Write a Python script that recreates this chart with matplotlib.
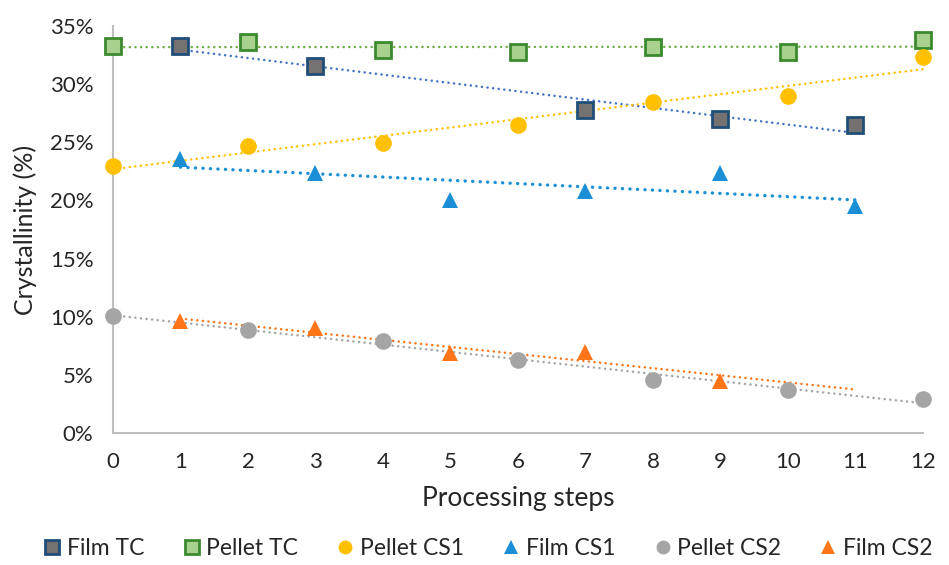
import numpy as np
import matplotlib
matplotlib.use("Agg")
import matplotlib.pyplot as plt
from matplotlib.ticker import FuncFormatter

plt.rcParams['font.family'] = ['Lato', 'DejaVu Sans']

# Data (crystallinity %)
film_tc_x = [1, 3, 7, 9, 11]
film_tc_y = [33.3, 31.6, 27.8, 27.0, 26.5]
pellet_tc_x = [0, 2, 4, 6, 8, 10, 12]
pellet_tc_y = [33.3, 33.6, 32.9, 32.8, 33.2, 32.8, 33.8]
pellet_cs1_x = [0, 2, 4, 6, 8, 10, 12]
pellet_cs1_y = [23.0, 24.7, 24.9, 26.5, 28.5, 29.0, 32.3]
film_cs1_x = [1, 3, 5, 7, 9, 11]
film_cs1_y = [23.6, 22.4, 20.0, 20.8, 22.4, 19.5]
pellet_cs2_x = [0, 2, 4, 6, 8, 10, 12]
pellet_cs2_y = [10.1, 8.9, 7.9, 6.3, 4.6, 3.7, 2.9]
film_cs2_x = [1, 3, 5, 7, 9]
film_cs2_y = [9.6, 9.0, 6.9, 7.0, 4.5]
film_cs2_trend_end = 11

x_ticks = list(range(0, 13))
y_ticks = [0, 5, 10, 15, 20, 25, 30, 35]

fig = plt.figure(figsize=(9.49, 5.65), dpi=100)
ax = fig.add_axes([0.119, 0.2336, 0.8536, 0.7204])

series = [
    dict(x=film_tc_x, y=film_tc_y, label='Film TC', marker='s', fc='#767171', ec='#1F4E79', ms=11, mew=2,
         lc='#4472C4', lw=1.8, end=None),
    dict(x=pellet_tc_x, y=pellet_tc_y, label='Pellet TC', marker='s', fc='#A9D18E', ec='#3B8A2E', ms=11, mew=2,
         lc='#70AD47', lw=1.8, end=None),
    dict(x=pellet_cs1_x, y=pellet_cs1_y, label='Pellet CS1', marker='o', fc='#FFC000', ec='#FFC000', ms=12, mew=0,
         lc='#FFC000', lw=1.8, end=None),
    dict(x=film_cs1_x, y=film_cs1_y, label='Film CS1', marker='^', fc='#1A8FD6', ec='#1A8FD6', ms=12, mew=0,
         lc='#1A8FD6', lw=2.4, end=None),
    dict(x=pellet_cs2_x, y=pellet_cs2_y, label='Pellet CS2', marker='o', fc='#A5A5A5', ec='#A5A5A5', ms=12, mew=0,
         lc='#A5A5A5', lw=1.8, end=None),
    dict(x=film_cs2_x, y=film_cs2_y, label='Film CS2', marker='^', fc='#FF7518', ec='#FF7518', ms=12, mew=0,
         lc='#FF7518', lw=1.8, end=film_cs2_trend_end),
]

for s in series:
    x = np.array(s['x'], dtype=float)
    y = np.array(s['y'], dtype=float)
    k, b = np.polyfit(x, y, 1)
    xe = s['end'] if s['end'] is not None else x.max()
    xt = np.array([x.min(), xe])
    ax.plot(xt, k * xt + b, color=s['lc'], lw=s['lw'], linestyle=(0, (0.05, 2.2)),
            dash_capstyle='round', zorder=2, clip_on=False)
    ax.plot(x, y, linestyle='none', marker=s['marker'], markersize=s['ms'],
            markerfacecolor=s['fc'], markeredgecolor=s['ec'], markeredgewidth=s['mew'],
            label=s['label'], zorder=3, clip_on=False)

ax.set_xlim(0, 12)
ax.set_ylim(0, 35)
ax.set_xticks(x_ticks)
ax.set_yticks(y_ticks)
ax.yaxis.set_major_formatter(FuncFormatter(lambda v, p: f"{int(v)}%"))
ax.tick_params(axis='both', length=0, labelsize=16, colors='#262626')
ax.tick_params(axis='x', pad=14)
ax.tick_params(axis='y', pad=14)
for sp in ['top', 'right']:
    ax.spines[sp].set_visible(False)
for sp in ['left', 'bottom']:
    ax.spines[sp].set_color('#BFBFBF')
    ax.spines[sp].set_linewidth(1.5)

ax.set_xlabel('Processing steps', fontsize=19, color='#262626', labelpad=10)
ax.set_ylabel('Crystallinity (%)', fontsize=18, color='#262626', labelpad=9)

leg_handles = []
for s in series:
    h = plt.Line2D([], [], linestyle='none', marker=s['marker'], markersize=10,
                   markerfacecolor=s['fc'], markeredgecolor=s['ec'],
                   markeredgewidth=s['mew'])
    leg_handles.append(h)
fig.legend(leg_handles, [s['label'] for s in series], loc='center', bbox_to_anchor=(0.513, 0.03),
           ncol=6, frameon=False, fontsize=16.5, handletextpad=0.15, columnspacing=1.55,
           handlelength=1.0, labelcolor='#262626')

fig.savefig('out.png', dpi=100)
